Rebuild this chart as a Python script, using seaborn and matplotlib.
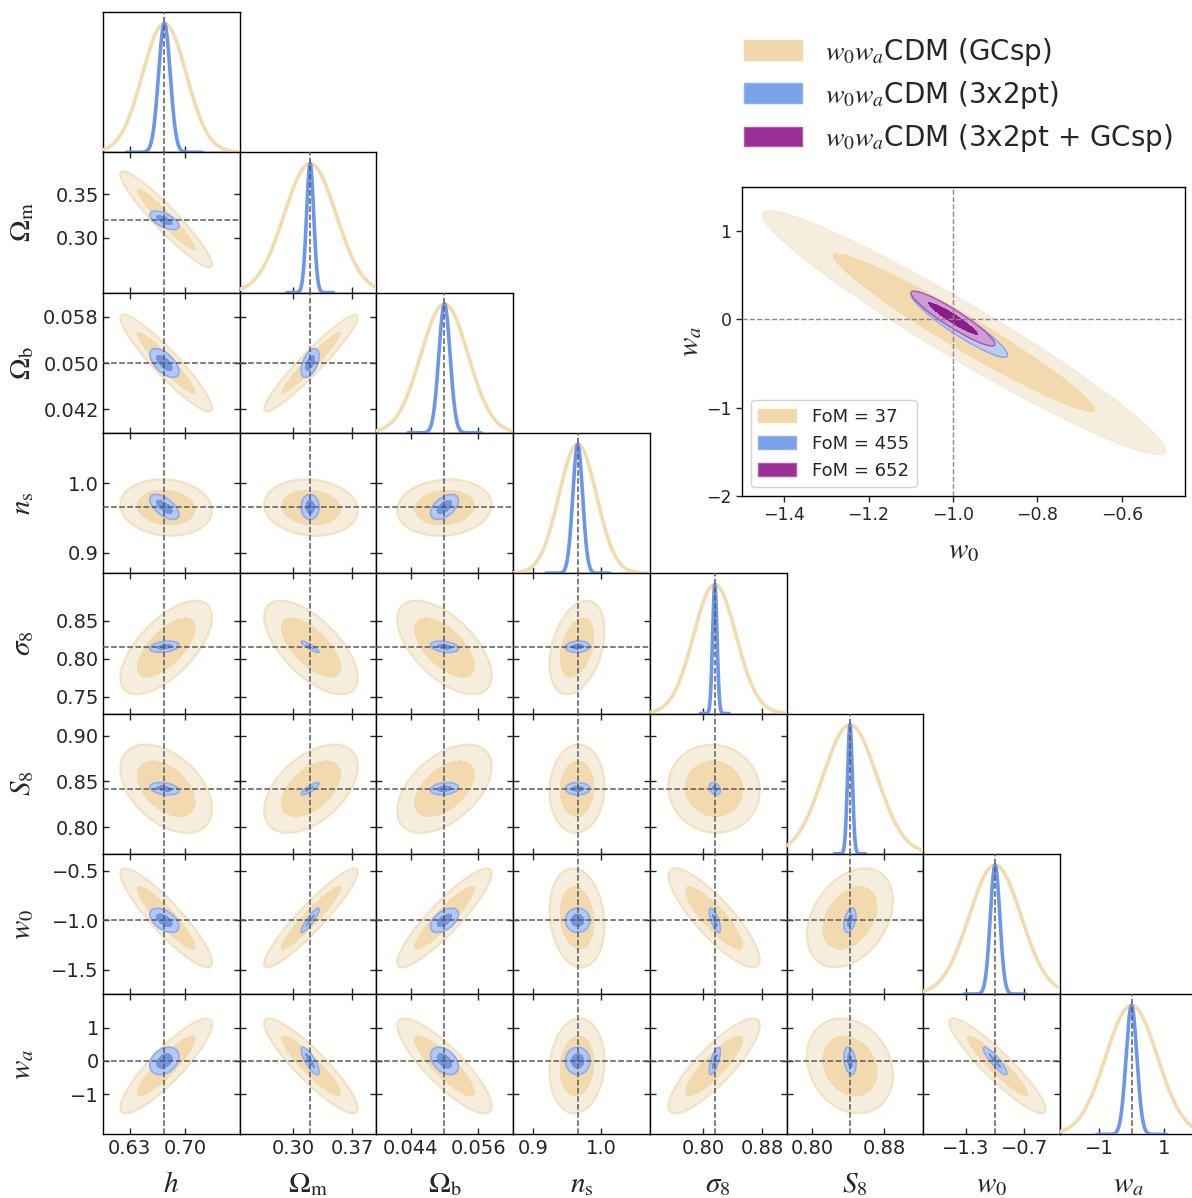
import numpy as np
import pandas as pd
import matplotlib
matplotlib.use("Agg")
import matplotlib.pyplot as plt
from matplotlib.patches import Patch
import seaborn as sns

# ---------------- data ----------------
labels = [r"$h$", r"$\Omega_{\rm m}$", r"$\Omega_{\rm b}$", r"$n_{\rm s}$",
          r"$\sigma_8$", r"$S_8$", r"$w_0$", r"$w_a$"]
fiducial = [0.6737, 0.32, 0.05, 0.966, 0.816, 0.842, -1.0, 0.0]
axis_lo = [0.596, 0.236, 0.0379, 0.871, 0.728, 0.771, -1.743, -2.2]
axis_hi = [0.769, 0.399, 0.0622, 1.072, 0.913, 0.924, -0.330, 2.0]

xtick_values = [[0.63, 0.70], [0.30, 0.37], [0.044, 0.056], [0.9, 1.0],
                [0.80, 0.88], [0.80, 0.88], [-1.3, -0.7], [-1, 1]]
xtick_labels = [["0.63", "0.70"], ["0.30", "0.37"], ["0.044", "0.056"], ["0.9", "1.0"],
                ["0.80", "0.88"], ["0.80", "0.88"], ["\u22121.3", "\u22120.7"], ["\u22121", "1"]]
ytick_values = [[], [0.30, 0.35], [0.042, 0.050, 0.058], [0.9, 1.0],
                [0.75, 0.80, 0.85], [0.80, 0.85, 0.90], [-1.5, -1.0, -0.5], [-1, 0, 1]]
ytick_labels = [[], ["0.30", "0.35"], ["0.042", "0.050", "0.058"], ["0.9", "1.0"],
                ["0.75", "0.80", "0.85"], ["0.80", "0.85", "0.90"],
                ["\u22121.5", "\u22121.0", "\u22120.5"], ["\u22121", "0", "1"]]

# GCsp (wide, tan)
gcsp_sigma_1d = [0.0277, 0.031, 0.0042, 0.0275, 0.0288, 0.030, 0.268, 0.79]
gcsp_sigma_2d = [0.0233, 0.0224, 0.00337, 0.0162, 0.0248, 0.0193, 0.20, 0.57]
gcsp_mean_2d = [0.676, 0.321, 0.050, 0.965, 0.815, 0.842, -0.975, -0.15]
gcsp_corr_rows = [[],
                  [-0.94],
                  [-0.93, 0.95],
                  [-0.10, -0.10, 0.10],
                  [0.65, -0.65, -0.60, 0.35],
                  [-0.45, 0.50, 0.50, 0.05, -0.05],
                  [-0.90, 0.93, 0.90, -0.15, -0.85, 0.35],
                  [0.88, -0.90, -0.85, 0.10, 0.85, -0.20, -0.92]]

# 3x2pt (narrow, blue)
tpt_sigma = [0.0074, 0.0043, 0.0010, 0.0072, 0.0030, 0.0027, 0.049, 0.165]
tpt_corr_rows = [[],
                 [-0.60],
                 [-0.60, 0.50],
                 [-0.60, 0.00, 0.50],
                 [0.30, -0.90, -0.30, 0.10],
                 [-0.30, 0.85, 0.20, 0.00, -0.30],
                 [-0.50, 0.90, 0.50, 0.00, -0.70, 0.40],
                 [0.30, -0.80, -0.40, 0.00, 0.70, -0.30, -0.90]]

# inset (w0, wa)
inset_names = ["GCsp", "3x2pt", "3x2pt + GCsp"]
inset_mean_w0 = [-0.974, -0.985, -1.000]
inset_mean_wa = [-0.15, -0.06, 0.01]
inset_sigma_w0 = [0.192, 0.046, 0.040]
inset_sigma_wa = [0.555, 0.148, 0.125]
inset_corr = [-0.965, -0.93, -0.93]
inset_fom = [37, 455, 652]

# ---------------- style ----------------
sns.set_style("white")
plt.rcParams["font.family"] = ["DejaVu Sans"]
plt.rcParams["mathtext.fontset"] = "stix"
plt.rcParams["axes.linewidth"] = 1.0
plt.rcParams["axes.edgecolor"] = "black"

TAN_LINE = "#F4DBAE"
TAN_IN, TAN_OUT, TAN_EDGE = "#F3D9AE", "#F6EEDD", "#F4E1C0"
BLUE_LINE = "#6A97EC"
BLUE_IN, BLUE_OUT, BLUE_EDGE = "#6E96E8", "#B5C8F1", "#8EADEE"
PUR_IN, PUR_OUT, PUR_EDGE = "#8C1C8A", "#CE9DD6", "#A855AC"
FID = "#5a5a5a"
L95 = 6.18
L68_GC = 2.65   # inner GCsp contour (flatter-topped than Gaussian in reference)
L68 = 2.30

W, H = 1192, 1198
X0, Y0, PW, PH = 103, 12, 136.7, 140.3
n = len(labels)

fig = plt.figure(figsize=(W / 100, H / 100), dpi=100)


def chi2(X, Y, mx, my, sx, sy, r):
    dx = (X - mx) / sx
    dy = (Y - my) / sy
    return (dx * dx - 2 * r * dx * dy + dy * dy) / (1 - r * r)


def ellipses(ax, X, Y, c, cin, cout, cedge, lw=1.4, l68=L68):
    ax.contourf(X, Y, c, levels=[0, l68, L95], colors=[cin, cout], zorder=2)
    ax.contour(X, Y, c, levels=[L95], colors=[cedge], linewidths=lw, zorder=2)


for i in range(n):
    for j in range(i + 1):
        left = (X0 + j * PW) / W
        bottom = 1 - (Y0 + (i + 1) * PH) / H
        ax = fig.add_axes([left, bottom, PW / W, PH / H])
        for s in ax.spines.values():
            s.set_linewidth(1.0)
            s.set_color("black")
        if i == j:
            xs = np.linspace(axis_lo[j], axis_hi[j], 600)
            p_g = np.exp(-0.5 * ((xs - fiducial[j]) / gcsp_sigma_1d[j]) ** 2)
            lo_b = max(axis_lo[j], fiducial[j] - 6.5 * tpt_sigma[j])
            hi_b = min(axis_hi[j], fiducial[j] + 6.5 * tpt_sigma[j])
            xb = np.linspace(lo_b, hi_b, 600)
            p_b = np.exp(-0.5 * ((xb - fiducial[j]) / tpt_sigma[j]) ** 2)
            d1 = pd.DataFrame({"x": xs, "p": p_g})
            d2 = pd.DataFrame({"x": xb, "p": p_b})
            sns.lineplot(data=d1, x="x", y="p", ax=ax, color=TAN_LINE, lw=2.6,
                         estimator=None, sort=False, zorder=3)
            sns.lineplot(data=d2, x="x", y="p", ax=ax, color=BLUE_LINE, lw=2.6,
                         estimator=None, sort=False, zorder=4)
            ax.axvline(fiducial[j], ls="--", color=FID, lw=1.1, zorder=5)
            ax.set_ylim(0, 1.088)
            ax.set_yticks([])
            ax.set_ylabel("")
            ax.tick_params(axis="x", direction="in", bottom=True, top=False,
                           length=4.5, width=1, labelsize=14, pad=3)
        else:
            xs = np.linspace(axis_lo[j], axis_hi[j], 360)
            ys = np.linspace(axis_lo[i], axis_hi[i], 360)
            X, Y = np.meshgrid(xs, ys)
            cg = chi2(X, Y, gcsp_mean_2d[j], gcsp_mean_2d[i],
                      gcsp_sigma_2d[j], gcsp_sigma_2d[i], gcsp_corr_rows[i][j])
            ellipses(ax, X, Y, cg, TAN_IN, TAN_OUT, TAN_EDGE, lw=1.6, l68=L68_GC)
            cb = chi2(X, Y, fiducial[j], fiducial[i],
                      tpt_sigma[j], tpt_sigma[i], tpt_corr_rows[i][j])
            ellipses(ax, X, Y, cb, BLUE_IN, BLUE_OUT, BLUE_EDGE, lw=1.2)
            ax.axvline(fiducial[j], ls="--", color=FID, lw=1.1, zorder=5)
            ax.axhline(fiducial[i], ls="--", color=FID, lw=1.1, zorder=5)
            ax.set_ylim(axis_lo[i], axis_hi[i])
            ax.set_yticks(ytick_values[i])
            ax.tick_params(direction="in", bottom=True, top=True, left=True, right=True,
                           length=4.5, width=1, labelsize=14, pad=3)
            if j == 0:
                ax.set_yticklabels(ytick_labels[i])
                ax.set_ylabel(labels[i], fontsize=21)
                ax.yaxis.label.set_verticalalignment("baseline")
                ax.yaxis.set_label_coords(-0.535, 0.5)
            else:
                ax.set_yticklabels([])
                ax.set_ylabel("")
        ax.set_xlim(axis_lo[j], axis_hi[j])
        ax.set_xticks(xtick_values[j])
        ax.set_xlabel("")
        if i == n - 1:
            ax.set_xticklabels(xtick_labels[j])
            ax.set_xlabel(labels[j], fontsize=21)
            ax.xaxis.label.set_verticalalignment("baseline")
            ax.xaxis.set_label_coords(0.5, -0.41)
        else:
            ax.set_xticklabels([])

# ---------------- inset w0-wa ----------------
ia = fig.add_axes([742 / W, 1 - 496 / H, (1185 - 742) / W, (496 - 187) / H])
xs = np.linspace(-1.5, -0.45, 1000)
ys = np.linspace(-2.0, 1.5, 1000)
X, Y = np.meshgrid(xs, ys)
inset_cols = [(TAN_IN, TAN_OUT, "#F5EBD6"), (BLUE_IN, "#BACDF3", "#86A6EC"),
              (PUR_IN, PUR_OUT, PUR_EDGE)]
inset_l68 = [L68_GC, L68, L68]
for k in range(3):
    c = chi2(X, Y, inset_mean_w0[k], inset_mean_wa[k], inset_sigma_w0[k],
             inset_sigma_wa[k], inset_corr[k])
    cin, cout, ced = inset_cols[k]
    ellipses(ia, X, Y, c, cin, cout, ced, lw=1.0, l68=inset_l68[k])
ia.axvline(-1.0, ls="--", color="#8a8a8a", lw=1.0, zorder=5)
ia.axhline(0.0, ls="--", color="#8a8a8a", lw=1.0, zorder=5)
ia.set_xlim(-1.5, -0.45)
ia.set_ylim(-2.0, 1.5)
ia.set_xticks([-1.4, -1.2, -1.0, -0.8, -0.6])
ia.set_yticks([-2, -1, 0, 1])
ia.tick_params(direction="out", length=4.5, width=1, labelsize=12.5, pad=3,
               bottom=True, left=True)
for s in ia.spines.values():
    s.set_linewidth(1.0)
    s.set_color("black")
ia.set_xlabel(r"$w_0$", fontsize=21)
ia.xaxis.label.set_verticalalignment("baseline")
ia.xaxis.set_label_coords(0.5, -0.2)
ia.set_ylabel(r"$w_a$", fontsize=21)
ia.yaxis.label.set_verticalalignment("baseline")
ia.yaxis.set_label_coords(-0.1, 0.5)
fom_handles = [Patch(facecolor="#F2D9AC", edgecolor="#F2D9AC"),
               Patch(facecolor="#7AA2EA", edgecolor="#8FB0EE"),
               Patch(facecolor="#9B2D96", edgecolor="#B05AB0")]
ia.legend(fom_handles, [f"FoM = {v}" for v in inset_fom], loc="lower left",
          fontsize=13, frameon=True, fancybox=True, framealpha=0.85,
          edgecolor="#cccccc", handlelength=2.1, handleheight=0.75,
          labelspacing=0.5, handletextpad=0.9, borderaxespad=0.5)

# ---------------- main legend ----------------
leg_handles = [Patch(facecolor="#F2D9AC", edgecolor="#F2D9AC"),
               Patch(facecolor="#7BA3EA", edgecolor="#8FB0EE"),
               Patch(facecolor="#9B2D96", edgecolor="#B05AB0")]
leg_labels = [r"$w_0w_a$CDM (" + nm + ")" for nm in inset_names]
fig.legend(leg_handles, leg_labels, loc="upper left",
           bbox_to_anchor=(744 / W, 1 - 36 / H), frameon=False, fontsize=20,
           handlelength=2.1, handleheight=0.72, labelspacing=0.40,
           handletextpad=0.8, borderpad=0, borderaxespad=0)

fig.savefig("out.png", dpi=100)
